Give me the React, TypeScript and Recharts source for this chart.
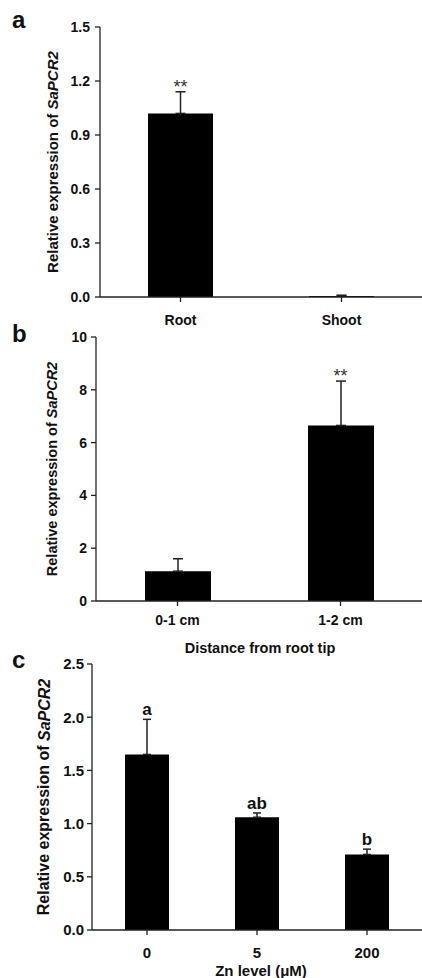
import { ComposedChart, Bar, Line, XAxis, YAxis, ErrorBar, LabelList, Label } from 'recharts';

// panel a: tissue
const tissues = ["Root", "Shoot"];
const tissueValues = [1.02, 0.006];
const tissueErrors = [0.12, 0.004];
const tissueSig = ["**", ""];
const tissueTicks = [0, 0.3, 0.6, 0.9, 1.2, 1.5];

// panel b: distance from root tip
const zones = ["0-1 cm", "1-2 cm"];
const zoneValues = [1.13, 6.65];
const zoneErrors = [0.47, 1.68];
const zoneSig = ["", "**"];
const zoneTicks = [0, 2, 4, 6, 8, 10];

// panel c: Zn level
const znLevels = ["0", "5", "200"];
const znValues = [1.65, 1.06, 0.71];
const znErrors = [0.33, 0.04, 0.05];
const znSig = ["a", "ab", "b"];
const znTicks = [0, 0.5, 1.0, 1.5, 2.0, 2.5];

const FONT = '"Liberation Sans", Arial, sans-serif';
const AXIS = '#222';

const build = (cats: string[], vals: number[], errs: number[], sig: string[]) =>
  cats.map((c, i) => ({ name: c, value: vals[i], err: [0, errs[i]], top: vals[i] + errs[i], sig: sig[i] }));

const yLabel = (dx: number, size: number) => (props: any) => {
  const vb = props.viewBox;
  const cx = vb.x + dx;
  const cy = vb.y + vb.height / 2;
  return (
    <text x={cx} y={cy} transform={`rotate(-90, ${cx}, ${cy})`} textAnchor="middle" dominantBaseline="central"
      fontFamily={FONT} fontWeight="bold" fontSize={size} fill="#111">
      Relative expression of <tspan fontStyle="italic">SaPCR2</tspan>
    </text>
  );
};

const xTitle = (text: string, dy: number, dx: number, size: number) => (props: any) => {
  const vb = props.viewBox;
  return (
    <text x={vb.x + vb.width / 2 + dx} y={vb.y + dy} textAnchor="middle" fontFamily={FONT} fontWeight="bold"
      fontSize={size} fill="#111">
      {text}
    </text>
  );
};

type PanelProps = {
  top: number;
  height: number;
  marginTop: number;
  axisWidth: number;
  xHeight: number;
  data: any[];
  ticks: number[];
  fmt: (v: number) => string;
  barSize: number;
  capWidth: number;
  tickFont: number;
  xTickMargin: number;
  yTickMargin: number;
  labelDx: number;
  labelSize: number;
  sigProps: any;
  title?: { text: string; dy: number; dx: number; size: number };
};

const Panel = (p: PanelProps) => (
  <div style={{ position: 'absolute', left: 0, top: p.top }}>
    <ComposedChart width={422} height={p.height} data={p.data}
      margin={{ top: p.marginTop, right: 0, bottom: 0, left: 0 }}>
      <XAxis dataKey="name" height={p.xHeight} tickSize={5} tickMargin={p.xTickMargin}
        axisLine={{ stroke: AXIS, strokeWidth: 1.3 }} tickLine={{ stroke: AXIS, strokeWidth: 1.3 }}
        tick={{ fontFamily: FONT, fontWeight: 'bold', fontSize: p.tickFont, fill: '#111' }} interval={0}>
        {p.title && <Label content={xTitle(p.title.text, p.title.dy, p.title.dx, p.title.size)} />}
      </XAxis>
      <YAxis width={p.axisWidth} domain={[p.ticks[0], p.ticks[p.ticks.length - 1]]} ticks={p.ticks}
        tickFormatter={p.fmt} tickSize={5} tickMargin={p.yTickMargin} interval={0}
        axisLine={{ stroke: AXIS, strokeWidth: 1.3 }} tickLine={{ stroke: AXIS, strokeWidth: 1.3 }}
        tick={{ fontFamily: FONT, fontWeight: 'bold', fontSize: p.tickFont, fill: '#111' }}>
        <Label content={yLabel(p.labelDx, p.labelSize)} />
      </YAxis>
      <Bar dataKey="value" fill="#000" barSize={p.barSize} isAnimationActive={false}>
        <ErrorBar dataKey="err" width={p.capWidth} stroke={AXIS} strokeWidth={1.5} direction="y" />
      </Bar>
      <Line dataKey="top" stroke="none" dot={false} activeDot={false} isAnimationActive={false}>
        <LabelList dataKey="sig" position="top" {...p.sigProps} />
      </Line>
    </ComposedChart>
  </div>
);

const App = () => {
  return (
    <div style={{ position: 'absolute', left: 0, top: 0, width: 422, height: 978, background: '#fff' }}>
      <Panel top={0} height={330} marginTop={27} axisWidth={100} xHeight={33}
        data={build(tissues, tissueValues, tissueErrors, tissueSig)} ticks={tissueTicks}
        fmt={(v) => v.toFixed(1)} barSize={65} capWidth={5} tickFont={14} xTickMargin={13} yTickMargin={5}
        labelDx={52} labelSize={15}
        sigProps={{ offset: -1, fontFamily: FONT, fontSize: 18, fill: '#333' }} />
      <Panel top={325} height={335} marginTop={12} axisWidth={96} xHeight={59}
        data={build(zones, zoneValues, zoneErrors, zoneSig)} ticks={zoneTicks}
        fmt={(v) => String(v)} barSize={66} capWidth={5} tickFont={14} xTickMargin={9} yTickMargin={4}
        labelDx={52} labelSize={14.5}
        sigProps={{ offset: -1, fontFamily: FONT, fontSize: 18, fill: '#333' }}
        title={{ text: 'Distance from root tip', dy: 51.5, dx: 1, size: 14.5 }} />
      <Panel top={650} height={328} marginTop={14} axisWidth={92} xHeight={48}
        data={build(znLevels, znValues, znErrors, znSig)} ticks={znTicks}
        fmt={(v) => v.toFixed(1)} barSize={44} capWidth={4} tickFont={15} xTickMargin={12} yTickMargin={3}
        labelDx={43.5} labelSize={16}
        sigProps={{ offset: 4, fontFamily: FONT, fontWeight: 'bold', fontSize: 17, fill: '#111' }}
        title={{ text: 'Zn level (μM)', dy: 45.5, dx: 4, size: 15 }} />
      <svg width={422} height={978} style={{ position: 'absolute', left: 0, top: 0, pointerEvents: 'none' }}>
        <text x={12} y={28} fontFamily={FONT} fontWeight="bold" fontSize={24} fill="#111">a</text>
        <text x={12} y={342} fontFamily={FONT} fontWeight="bold" fontSize={24} fill="#111">b</text>
        <text x={12} y={668} fontFamily={FONT} fontWeight="bold" fontSize={24} fill="#111">c</text>
      </svg>
    </div>
  );
};

export default App;
